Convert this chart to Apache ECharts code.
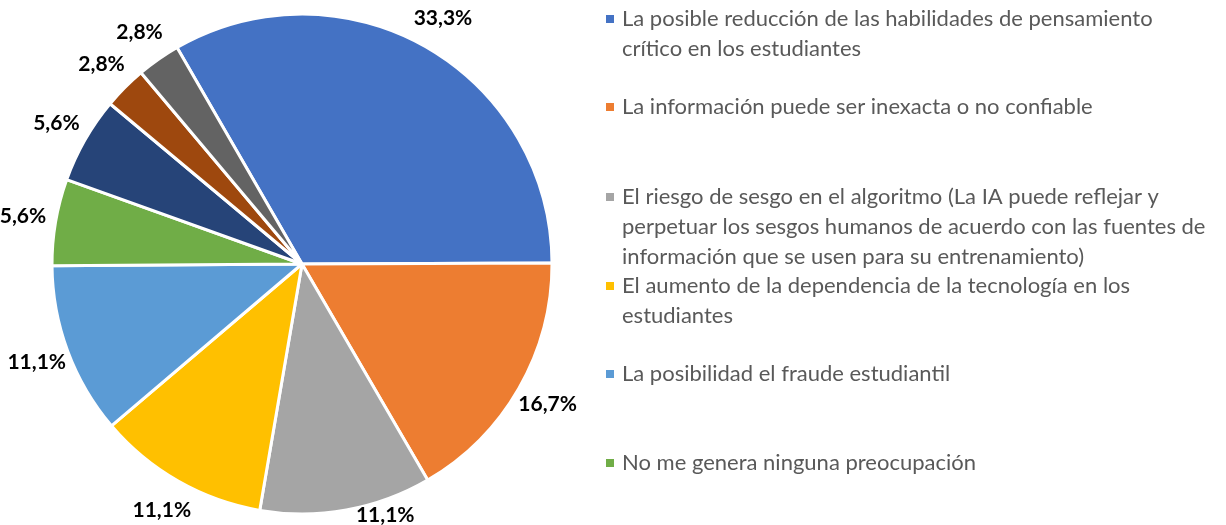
<!DOCTYPE html>
<html><head><meta charset="utf-8">
<script src="https://cdn.jsdelivr.net/npm/echarts@6/dist/echarts.min.js"></script>
<style>html,body{margin:0;padding:0;background:#fff}#c{width:1226px;height:525px}</style>
</head><body><div id="c"></div>
<script>
const categories = [
  "La posible reducción de las habilidades de pensamiento crítico en los estudiantes",
  "La información puede ser inexacta o no confiable",
  "El riesgo de sesgo en el algoritmo (La IA puede reflejar y perpetuar los sesgos humanos de acuerdo con las fuentes de información que se usen para su entrenamiento)",
  "El aumento de la dependencia de la tecnología en los estudiantes",
  "La posibilidad el fraude estudiantil",
  "No me genera ninguna preocupación",
  "Otra preocupación (a)",
  "Otra preocupación (b)",
  "Otra preocupación (c)"
];
const values = [33.3, 16.7, 11.1, 11.1, 11.1, 5.6, 5.6, 2.8, 2.8];
const colors = ["#4472C4","#ED7D31","#A5A5A5","#FFC000","#5B9BD5","#70AD47","#264478","#9E480E","#636363"];

// legend layout (first-line centre y, wrap width, number of lines)
const legendCenters = [19, 107, 197, 286, 374, 463];
const legendWidths = [560, 600, 600, 600, 600, 600];
const legendLines = [2, 1, 3, 2, 1, 1];
const LH = 30;
const ICON = 8;

const W = 1226, H = 525;
const CX = 302, CY = 264, R = 250;

// square icon sitting on the first text line of a multi-line legend item
function iconFor(n) {
  const h = n * LH;               // total item height in px
  const unitH = h / ICON;         // path height in units (1 unit = ICON px)
  const a = (LH / 2 - ICON / 2) / ICON;
  return 'path://M0,0L0,0M0,' + unitH + 'L0,' + unitH +
         'M0,' + a + 'L1,' + a + 'L1,' + (a + 1) + 'L0,' + (a + 1) + 'Z';
}

const chart = echarts.init(document.getElementById('c'), null, {renderer:'canvas'});
const legends = legendCenters.map((c, i) => ({
  data: [categories[i]],
  left: 606, top: c - LH / 2,
  padding: 0,
  orient: 'vertical',
  icon: iconFor(legendLines[i]),
  itemWidth: ICON, itemHeight: legendLines[i] * LH, itemGap: 0,
  itemStyle: {borderWidth: 0},
  selectedMode: false,
  textStyle: {fontFamily: 'Lato', fontSize: 22, color: '#595959', width: legendWidths[i],
    overflow: 'break', lineHeight: LH, padding: [0, 0, 0, 3]}
}));
const pieData = categories.map((n, i) => ({name: n, value: values[i]}));
chart.setOption({
  animation: false,
  color: colors,
  legend: legends,
  series: [{
    type: 'pie',
    center: [CX, CY],
    radius: R,
    startAngle: 120,
    clockwise: true,
    itemStyle: {borderColor: '#fff', borderWidth: 3},
    label: {show: false},
    labelLine: {show: false},
    data: pieData
  }, {
    type: 'pie',
    silent: true,
    center: [CX, CY],
    radius: [R, R + 60],
    startAngle: 120,
    clockwise: true,
    itemStyle: {color: 'rgba(0,0,0,0)', borderWidth: 0},
    label: {
      show: true, position: 'inside',
      formatter: p => p.value.toFixed(1).replace('.', ',') + '%',
      fontFamily: 'Lato', fontWeight: 'bold', fontSize: 21, color: '#000'
    },
    labelLayout: function (params) {
      const r = params.labelRect;
      const cx = r.x + r.width / 2, cy = r.y + r.height / 2;
      const limit = H - 10;
      if (cy > limit) {
        const over = cy - limit;
        return {x: cx + over * (cx >= CX ? 1.2 : -1.2), y: limit};
      }
    },
    labelLine: {show: false},
    data: pieData
  }]
});
</script></body></html>
